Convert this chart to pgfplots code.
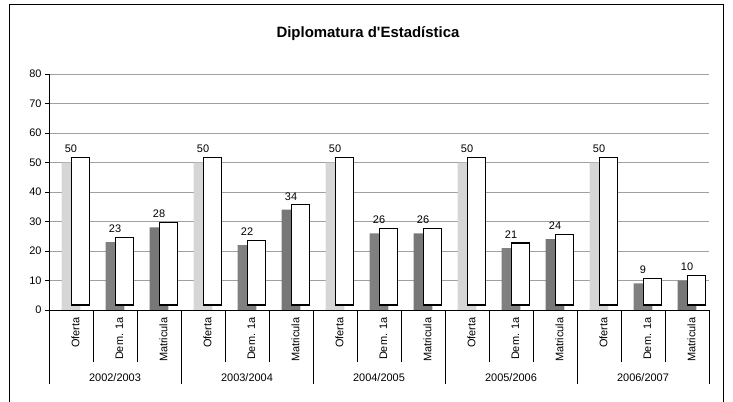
\documentclass[border=0pt]{standalone}
\usepackage{pgfplots}
\pgfplotsset{compat=1.18}
\usepackage{pgfplotstable}
\usepackage{fontspec}
\setmainfont{Liberation Sans}
\definecolor{ofertac}{HTML}{D6D6D6}
\definecolor{demc}{HTML}{808080}
\definecolor{matc}{HTML}{777777}
\definecolor{gridc}{HTML}{A0A0A0}
\pgfplotstableread{
x y
0 50
3 50
6 50
9 50
12 50
}\oferta
\pgfplotstableread{
x y
1 23
4 22
7 26
10 21
13 9
}\dem
\pgfplotstableread{
x y
2 28
5 34
8 26
11 24
14 10
}\matr
\pgfplotstableread{
x base y
0 1.7 50
1 1.7 23
2 1.7 28
3 1.7 50
4 1.7 22
5 1.7 34
6 1.7 50
7 1.7 26
8 1.7 26
9 1.7 50
10 1.7 21
11 1.7 24
12 1.7 50
13 1.7 9
14 1.7 10
}\boxes
\begin{document}
\begin{tikzpicture}[x=1bp,y=1bp]
\useasboundingbox (0,0) rectangle (733,401);
\begin{scope}
\clip (0,0) rectangle (733,401);
\draw[line width=1.5bp] (9.5,-10) -- (9.5,396.5) -- (723.5,396.5) -- (723.5,-10);
\end{scope}
\node[font=\bfseries\fontsize{15}{18}\selectfont, anchor=base] at (368,363.5) {Diplomatura d\textquotesingle Estadística};
\begin{axis}[
  at={(49bp,91bp)}, anchor=south west,
  width=660bp, height=236bp, scale only axis,
  xmin=-0.5, xmax=14.5, ymin=0, ymax=80,
  axis x line*=bottom, axis y line*=left,
  axis line style={black, line width=0.8bp},
  ytick={0,10,...,80},
  ymajorgrids, grid style={gridc, line width=0.8bp},
  tick align=outside, major tick length=4bp,
  tick style={black, line width=0.8bp},
  yticklabel style={font=\fontsize{11}{13}\selectfont},
  /pgf/number format/assume math mode=true,
  xtick={0,...,14},
  xticklabels={Oferta,Dem. 1a,Matricula,Oferta,Dem. 1a,Matricula,Oferta,Dem. 1a,Matricula,Oferta,Dem. 1a,Matricula,Oferta,Dem. 1a,Matricula},
  xticklabel style={rotate=90, anchor=east, font=\fontsize{11}{13}\selectfont, yshift=-4.5bp},
  xtick style={draw=none},
  ybar, bar width=0.43,
  nodes near coords,
  every node near coord/.append style={font=\fontsize{11}{13}\selectfont, anchor=base, inner sep=0pt, yshift=9.7bp, black},
  clip=false,
]
\addplot[bar shift=0pt, draw=none, fill=ofertac] table[x=x,y=y] {\oferta};
\addplot[bar shift=0pt, draw=none, fill=demc] table[x=x,y=y] {\dem};
\addplot[bar shift=0pt, draw=none, fill=matc] table[x=x,y=y] {\matr};
\end{axis}
\begin{axis}[
  at={(49bp,91bp)}, anchor=south west,
  width=660bp, height=236bp, scale only axis,
  xmin=-0.5, xmax=14.5, ymin=0, ymax=80,
  axis x line*=bottom, axis y line=none,
  axis line style={black, line width=0.8bp},
  ytick=\empty,
  xtick={-0.5,0.5,...,14.5}, xticklabels={},
  tick align=outside, major tick length=52bp,
  tick style={black, line width=0.8bp},
  extra x ticks={-0.5,2.5,5.5,8.5,11.5,14.5}, extra x tick labels={},
  extra x tick style={major tick length=74bp},
  ybar stacked, bar width=0.40, bar shift=0.22,
  clip=false,
]
\addplot[draw=none, fill=none] table[x=x,y=base] {\boxes};
\addplot[draw=black, fill=white, line width=1.1bp] table[x=x,y=y] {\boxes};
\node[font=\fontsize{11}{13}\selectfont, anchor=base, yshift=-71.5bp] at (axis cs:1,0) {2002/2003};
\node[font=\fontsize{11}{13}\selectfont, anchor=base, yshift=-71.5bp] at (axis cs:4,0) {2003/2004};
\node[font=\fontsize{11}{13}\selectfont, anchor=base, yshift=-71.5bp] at (axis cs:7,0) {2004/2005};
\node[font=\fontsize{11}{13}\selectfont, anchor=base, yshift=-71.5bp] at (axis cs:10,0) {2005/2006};
\node[font=\fontsize{11}{13}\selectfont, anchor=base, yshift=-71.5bp] at (axis cs:13,0) {2006/2007};
\end{axis}
\end{tikzpicture}
\end{document}
